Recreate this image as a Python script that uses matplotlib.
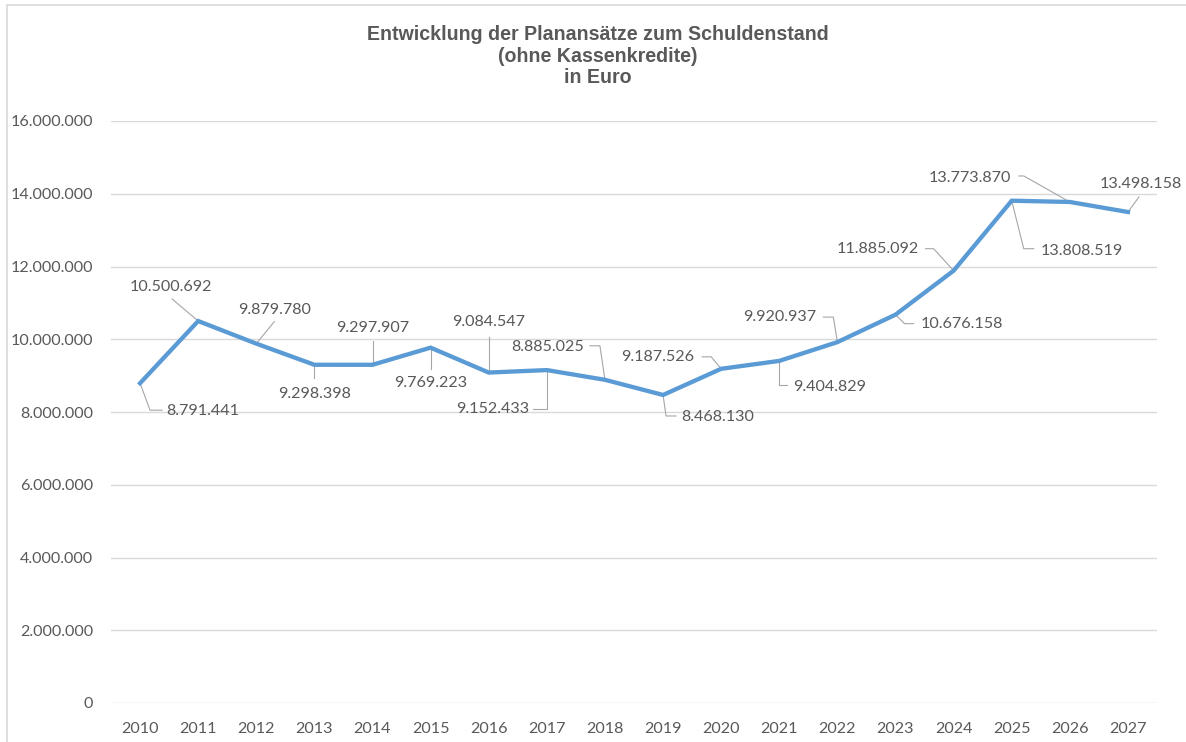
import matplotlib.pyplot as plt
import matplotlib.patches as mpatches

years = [str(y) for y in range(2010, 2028)]
schuldenstand = [8791441, 10500692, 9879780, 9298398, 9297907, 9769223,
                 9084547, 9152433, 8885025, 8468130, 9187526, 9404829,
                 9920937, 10676158, 11885092, 13808519, 13773870, 13498158]
y_ticks = list(range(0, 16000001, 2000000))

# label placement: alignment, text offset (px, y down), leader vertices (px, y down)
label_layout = [
    ("left", 26, 28, [(0, 0), (10, 27), (22, 27)]),
    ("center", -27, -34, [(-26, -22), (0, 0)]),
    ("center", 18, -34, [(18, -22), (0, 0)]),
    ("center", 0, 29, [(0, 0), (0, 13)]),
    ("center", 0, -37, [(0, -24), (0, 0)]),
    ("center", 0, 35, [(0, 0), (0, 21)]),
    ("center", 0, -51, [(0, -36), (0, 0)]),
    ("right", -18, 39, [(-14, 39), (0, 39), (0, 0)]),
    ("right", -21, -33, [(-15, -34), (-5, -34), (0, 0)]),
    ("left", 18, 22, [(0, 0), (3, 21), (13, 21)]),
    ("right", -27, -12, [(-19, -12), (-10, -12), (0, 0)]),
    ("left", 14, 26, [(0, 0), (0, 24), (8, 24)]),
    ("right", -21, -25, [(-14, -25), (-4, -25), (0, 0)]),
    ("left", 25, 9, [(0, 0), (9, 9), (18, 9)]),
    ("right", -35, -22, [(-28, -22), (-20, -22), (0, 0)]),
    ("left", 29, 50, [(0, 0), (12, 48), (22, 48)]),
    ("right", -59, -24, [(-51, -26), (-46, -26), (0, 0)]),
    ("center", 13, -28, [(11, -15), (0, 0)]),
]

TEXT = "#595959"
GRID = "#d9d9d9"
LINE = "#5b9bd5"
LEADER = "#a6a6a6"


def de_fmt(v):
    return f"{int(v):,}".replace(",", ".")


fig = plt.figure(figsize=(11.86, 7.42), dpi=100)
ax = fig.add_axes([111 / 1186, 1 - 703 / 742, 1046 / 1186, 582 / 742])

# outer chart frame
fig.patches.append(mpatches.Rectangle((7 / 1186, -0.1), 1.2, 0.1 + 1 - 5 / 742,
                                      transform=fig.transFigure, fill=False,
                                      edgecolor=GRID, lw=1.2))

x = list(range(len(years)))
ax.plot(x, schuldenstand, color=LINE, lw=3.1, solid_joinstyle="miter", zorder=3)

ax.set_xlim(-0.5, len(years) - 0.5)
ax.set_ylim(0, 16000000)
ax.set_yticks(y_ticks)
ax.set_yticklabels([de_fmt(t) for t in y_ticks])
ax.set_xticks(x)
ax.set_xticklabels(years)
ax.grid(axis="y", color=GRID, lw=1)
ax.set_axisbelow(True)
for s in ax.spines.values():
    s.set_visible(False)
ax.tick_params(length=0, colors=TEXT, labelsize=11.6)
ax.tick_params(axis="y", pad=13)
ax.tick_params(axis="x", pad=13.5)
for lbl in ax.get_xticklabels() + ax.get_yticklabels():
    lbl.set_fontfamily("Lato")

to_data = ax.transData.inverted()
for i, (v, (ha, dx, dy, verts)) in enumerate(zip(schuldenstand, label_layout)):
    ax.annotate(de_fmt(v), xy=(i, v), xytext=(dx, -dy), textcoords="offset pixels",
                ha=ha, va="center", fontsize=11.6, family="Lato", color=TEXT)
    px, py = ax.transData.transform((i, v))
    pts = to_data.transform([(px + ox, py - oy) for ox, oy in verts])
    ax.plot(pts[:, 0], pts[:, 1], color=LEADER, lw=0.8, zorder=2)

fig.text(0.504, 1 - 56 / 742,
         "Entwicklung der Planansätze zum Schuldenstand\n(ohne Kassenkredite)\nin Euro",
         ha="center", va="center", fontsize=14.1, fontweight="bold",
         family="Liberation Sans", color=TEXT, linespacing=1.15)

fig.savefig("out.png", dpi=100)
